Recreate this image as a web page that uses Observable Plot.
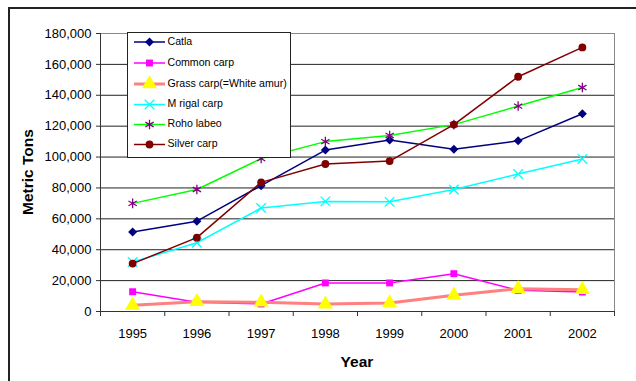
<!DOCTYPE html>
<html>
<head>
<meta charset="utf-8">
<script src="https://cdn.jsdelivr.net/npm/d3@7"></script>
<script src="https://cdn.jsdelivr.net/npm/@observablehq/plot@0.6"></script>
<style>
  html, body { margin: 0; padding: 0; background: #fff; }
  #wrap { position: relative; width: 636px; height: 381px; overflow: hidden; }
  #edge { position: absolute; left: 8px; top: 7px; width: 640px; height: 400px;
          border-top: 2px solid #222; border-left: 2px solid #222; pointer-events: none; }
  svg { font-family: "Liberation Sans", Arial, sans-serif; }
</style>
</head>
<body>
<div id="wrap"><div id="edge"></div></div>
<script>
// ---- data ----
const years = [1995, 1996, 1997, 1998, 1999, 2000, 2001, 2002];
const catla      = [51500, 58500, 81500, 104500, 111000, 105000, 110500, 128000];
const commonCarp = [12800, 6000, 4900, 18500, 18500, 24500, 13700, 12600];
const grassCarp  = [4000, 6300, 6000, 4800, 5500, 10500, 14800, 14100];
const mrigalCarp = [32000, 44500, 67000, 71300, 71000, 79000, 89000, 98800];
const rohoLabeo  = [70000, 79000, 99000, 110000, 114000, 121000, 133000, 145000];
const silverCarp = [31000, 47800, 83600, 95500, 97400, 121000, 152000, 171000];
const seriesNames = ["Catla", "Common carp", "Grass carp(=White amur)", "M rigal carp", "Roho labeo", "Silver carp"];
const yTicks = [0, 20000, 40000, 60000, 80000, 100000, 120000, 140000, 160000, 180000];

// ---- styles ----
const styles = [
  {values: catla,      line: "#000080", width: 1.5, symbol: "square",   rotate: 45, fill: "#000080", stroke: "none",    r: 3.6},
  {values: commonCarp, line: "#FF00FF", width: 1.5, symbol: "square",   rotate: 0,  fill: "#FF00FF", stroke: "none",    r: 3.9},
  {values: grassCarp,  line: "#FF8080", width: 3,   symbol: "triangle", rotate: 0,  fill: "#FFFF00", stroke: "none",    r: 5.6},
  {values: mrigalCarp, line: "#00FFFF", width: 1.5, symbol: "times",    rotate: 0,  fill: "none",    stroke: "#00FFFF", r: 4.4},
  {values: rohoLabeo,  line: "#00FF00", width: 1.5, symbol: "asterisk", rotate: 0,  fill: "none",    stroke: "#800080", r: 4.5},
  {values: silverCarp, line: "#800000", width: 1.5, symbol: "circle",   rotate: 0,  fill: "#800000", stroke: "none",    r: 3.9}
];

const rows = seriesNames.flatMap((name, k) =>
  years.map((year, i) => ({series: name, year, value: styles[k].values[i]})));
const bounds = years.map(y => y - 0.5).concat([years[years.length - 1] + 0.5]);

const seriesMarks = seriesNames.flatMap((name, k) => {
  const s = styles[k];
  const d = rows.filter(r => r.series === name);
  return [
    Plot.line(d, {x: "year", y: "value", stroke: s.line, strokeWidth: s.width}),
    Plot.dot(d, {x: "year", y: "value", symbol: () => s.symbol, r: s.r, rotate: s.rotate,
                 fill: s.fill, stroke: s.stroke, strokeWidth: 1.3})
  ];
});

const chart = Plot.plot({
  width: 636, height: 381,
  marginLeft: 100, marginRight: 22, marginTop: 33, marginBottom: 70,
  x: {type: "linear", domain: [bounds[0], bounds[bounds.length - 1]]},
  y: {domain: [0, 180000]},
  symbol: {type: "identity"},
  style: {fontFamily: "'Liberation Sans', Arial, sans-serif", fontSize: "13px", color: "#000", background: "white", overflow: "visible"},
  marks: [
    Plot.ruleY(yTicks.filter(v => v > 0 && v < 180000), {stroke: "#222", strokeWidth: 1}),
    Plot.frame({stroke: "#888"}),
    Plot.ruleY([0], {stroke: "#333"}),
    Plot.ruleX([bounds[0]], {stroke: "#333"}),
    Plot.axisY({ticks: yTicks, tickFormat: d3.format(","), tickSize: 4, tickPadding: 5, label: null, fontSize: 13, stroke: "#333"}),
    Plot.axisX({ticks: years, tickSize: 0, tickPadding: 17, tickFormat: d => String(d), label: null, fontSize: 13}),
    Plot.axisX({ticks: bounds, tickSize: 5, tickFormat: () => "", label: null, stroke: "#333"}),
    ...seriesMarks
  ]
});

document.getElementById("wrap").insertBefore(chart, document.getElementById("edge"));

const svg = d3.select(chart);
// axis titles
svg.append("text").attr("x", 357).attr("y", 363).attr("text-anchor", "middle")
  .attr("dominant-baseline", "middle").attr("font-size", 15.5).attr("font-weight", "bold")
  .attr("fill", "#000").text("Year");
svg.append("text").attr("transform", "translate(29,172) rotate(-90)").attr("text-anchor", "middle")
  .attr("dominant-baseline", "middle").attr("font-size", 15.5).attr("font-weight", "bold")
  .attr("fill", "#000").text("Metric Tons");

// legend
const lg = svg.append("g").attr("text-anchor", "start");
lg.append("rect").attr("x", 127.5).attr("y", 32.5).attr("width", 163).attr("height", 125)
  .attr("fill", "white").attr("stroke", "#222").attr("stroke-width", 1);
const rowY = [42, 63, 84, 104.5, 124.5, 144.5];
const symMap = {square: d3.symbolSquare, triangle: d3.symbolTriangle, times: d3.symbolTimes,
                asterisk: d3.symbolAsterisk, circle: d3.symbolCircle};
seriesNames.forEach((name, k) => {
  const s = styles[k];
  const y = rowY[k];
  lg.append("line").attr("x1", 134).attr("x2", 165).attr("y1", y).attr("y2", y)
    .attr("stroke", s.line).attr("stroke-width", s.width);
  lg.append("path").attr("d", d3.symbol(symMap[s.symbol], Math.PI * s.r * s.r)())
    .attr("transform", `translate(149.5,${y}) rotate(${s.rotate})`)
    .attr("fill", s.fill).attr("stroke", s.stroke).attr("stroke-width", 1.3);
  lg.append("text").attr("x", 167.5).attr("y", y).attr("dominant-baseline", "middle")
    .attr("text-anchor", "start").attr("font-size", 10.6).attr("fill", "#000").text(name);
});
</script>
</body>
</html>
